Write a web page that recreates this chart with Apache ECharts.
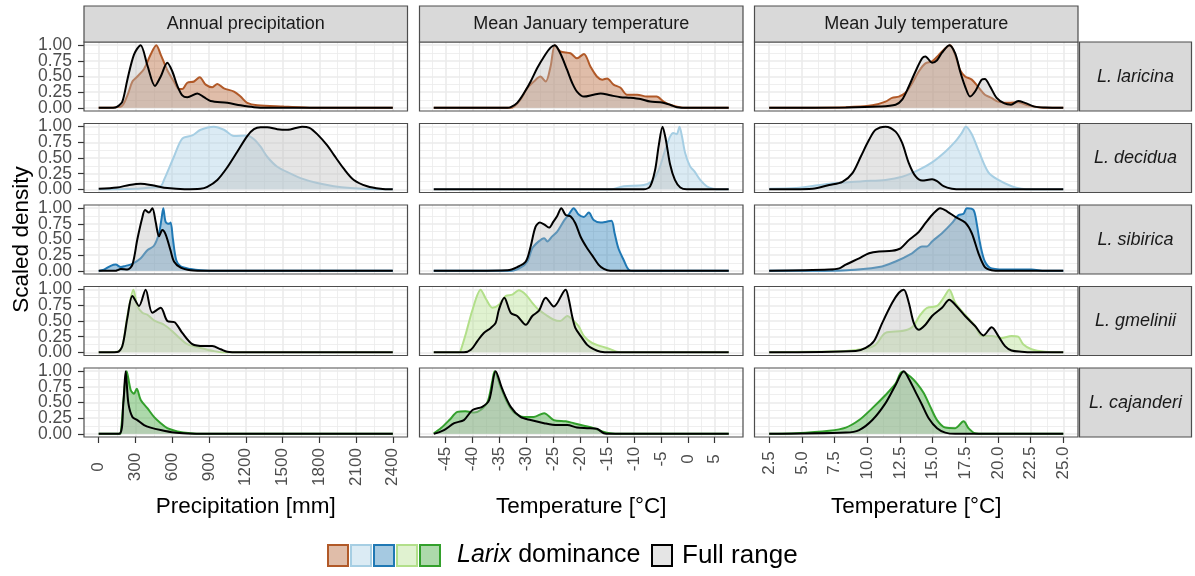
<!DOCTYPE html>
<html><head><meta charset="utf-8">
<script src="https://cdn.jsdelivr.net/npm/echarts@6/dist/echarts.min.js"></script>
<style>html,body{margin:0;padding:0;background:#fff}#c{width:1195px;height:576px}</style>
</head><body><div id="c"></div><script>
// ---------- labels & ticks ----------
const variables = ['Annual precipitation', 'Mean January temperature', 'Mean July temperature'];
const species = ['L. laricina', 'L. decidua', 'L. sibirica', 'L. gmelinii', 'L. cajanderi'];
const speciesColors = ['#B15928', '#A6CEE3', '#1F78B4', '#B2DF8A', '#33A02C'];
const xTitles = ['Precipitation [mm]', 'Temperature [°C]', 'Temperature [°C]'];
const xTicksPrecip = [0, 300, 600, 900, 1200, 1500, 1800, 2100, 2400];
const xTicksJan = [-45, -40, -35, -30, -25, -20, -15, -10, -5, 0, 5];
const xTicksJul = [2.5, 5, 7.5, 10, 12.5, 15, 17.5, 20, 22.5, 25];
const xMinorPrecip = [150, 450, 750, 1050, 1350, 1650, 1950, 2250];
const xMinorJan = [-47.5, -42.5, -37.5, -32.5, -27.5, -22.5, -17.5, -12.5, -7.5, -2.5, 2.5, 7.5];
const xMinorJul = [3.75, 6.25, 8.75, 11.25, 13.75, 16.25, 18.75, 21.25, 23.75];
const yTicksA = [0, 0.5, 1];      // y tick labels, split over two axes so none is auto-hidden
const yTicksB = [0.25, 0.75];
const yMinor = [0.125, 0.375, 0.625, 0.875];

// ---------- scaled densities: [x, density] ----------
// Annual precipitation (mm)
const laricinaPrecipDom = [[0,0],[180,0.02],[234,0.2],[275,0.42],[315,0.5],[370,0.62],[424,0.85],[470,1],[506,0.85],[560,0.6],[614,0.42],[655,0.3],[682,0.3],[723,0.4],[778,0.42],[824,0.49],[873,0.37],[927,0.33],[968,0.38],[1022,0.31],[1104,0.26],[1158,0.18],[1212,0.08],[1294,0.04],[1511,0.02],[1647,0.01],[1783,0],[2400,0]];
const laricinaPrecipFull = [[0,0],[120,0],[152,0.02],[193,0.1],[234,0.45],[288,0.85],[342,1],[397,0.68],[459,0.35],[506,0.5],[560,0.72],[601,0.58],[642,0.35],[682,0.2],[723,0.17],[805,0.23],[859,0.17],[913,0.11],[1049,0.08],[1158,0.04],[1267,0.01],[1375,0],[2400,0]];
const deciduaPrecipDom = [[0,0],[300,0.01],[420,0.03],[506,0.05],[533,0.15],[614,0.52],[682,0.81],[764,0.86],[832,0.95],[940,1],[1022,0.95],[1104,0.85],[1212,0.86],[1267,0.8],[1321,0.68],[1375,0.52],[1457,0.36],[1566,0.25],[1647,0.18],[1783,0.1],[1919,0.05],[2055,0.02],[2191,0.005],[2400,0]];
const deciduaPrecipFull = [[0,0.01],[150,0.03],[250,0.07],[342,0.09],[450,0.06],[560,0.02],[700,0.003],[830,0.01],[886,0.04],[968,0.15],[1049,0.35],[1131,0.6],[1212,0.85],[1267,0.96],[1321,0.99],[1375,0.99],[1457,0.96],[1538,0.95],[1660,1],[1720,0.98],[1783,0.88],[1865,0.7],[1919,0.55],[2000,0.33],[2082,0.15],[2191,0.05],[2300,0.01],[2400,0]];
const sibiricaPrecipDom = [[0,0],[43,0.02],[98,0.08],[139,0.1],[180,0.06],[220,0.08],[275,0.11],[343,0.2],[397,0.33],[451,0.4],[492,0.6],[514,0.85],[527,1],[546,0.78],[574,0.75],[587,0.77],[606,0.5],[633,0.17],[669,0.07],[750,0.03],[832,0.01],[968,0],[2400,0]];
const sibiricaPrecipFull = [[0,0],[140,0],[152,0.01],[180,0.03],[234,0.02],[275,0.1],[315,0.5],[356,0.85],[378,0.97],[410,0.93],[438,1],[465,0.78],[492,0.55],[519,0.65],[546,0.58],[587,0.32],[614,0.15],[669,0.05],[750,0.01],[886,0],[2400,0]];
const gmeliniiPrecipDom = [[0,0],[152,0.01],[193,0.1],[234,0.58],[283,1],[315,0.74],[356,0.63],[397,0.6],[451,0.51],[500,0.47],[533,0.44],[587,0.36],[642,0.26],[723,0.13],[832,0.07],[941,0.02],[1022,0],[2400,0]];
const gmeliniiPrecipFull = [[0,0],[152,0.005],[193,0.1],[234,0.55],[275,0.9],[329,0.74],[383,1],[438,0.63],[506,0.71],[560,0.5],[620,0.48],[682,0.31],[764,0.13],[859,0.1],[927,0.1],[995,0.05],[1049,0.01],[1150,0],[2400,0]];
const cajanderiPrecipDom = [[0,0],[166,0],[180,0.01],[207,0.64],[228,1],[261,0.7],[288,0.64],[310,0.72],[343,0.54],[397,0.41],[451,0.27],[506,0.17],[560,0.09],[642,0.04],[750,0.01],[850,0],[2400,0]];
const cajanderiPrecipFull = [[0,0],[166,0],[201,0.49],[220,1],[242,0.49],[275,0.27],[315,0.22],[370,0.14],[424,0.1],[506,0.06],[614,0.02],[723,0.005],[850,0],[2400,0]];
// Mean January temperature (°C)
const laricinaJanDom = [[-47.2,0],[-32.9,0],[-31.1,0.13],[-29.8,0.32],[-28.6,0.42],[-27.4,0.5],[-26.4,0.42],[-25.5,0.66],[-24.7,1],[-23.7,0.9],[-21.8,0.87],[-20.6,0.79],[-19.3,0.86],[-18.1,0.66],[-16.9,0.5],[-15.9,0.45],[-15.0,0.47],[-13.8,0.37],[-12.5,0.32],[-11.3,0.21],[-9.4,0.21],[-7.6,0.18],[-5.8,0.18],[-4.5,0.1],[-3.3,0.05],[-2.0,0.02],[-0.2,0],[7.6,0]];
const laricinaJanFull = [[-47.2,0],[-33.5,0],[-32.9,0.01],[-31.7,0.08],[-30.4,0.24],[-29.2,0.42],[-28.0,0.63],[-26.7,0.82],[-25.5,0.96],[-24.7,1],[-23.7,0.87],[-22.4,0.6],[-21.5,0.4],[-20.6,0.26],[-19.3,0.18],[-17.5,0.21],[-16.2,0.23],[-14.4,0.2],[-12.5,0.17],[-10.7,0.16],[-8.8,0.14],[-7.0,0.1],[-5.1,0.09],[-3.3,0.05],[-2.0,0.01],[-0.2,0],[7.6,0]];
const deciduaJanDom = [[-47.2,0],[-14.4,0],[-11.9,0.05],[-8.2,0.07],[-6.7,0.13],[-5.4,0.31],[-4.2,0.63],[-3.3,0.84],[-2.7,0.9],[-2.05,0.88],[-1.55,1],[-1.1,0.85],[-0.5,0.58],[0.4,0.37],[1.2,0.29],[2.3,0.15],[3.5,0.05],[4.7,0.01],[6.0,0],[7.6,0]];
const deciduaJanFull = [[-47.2,0],[-8.2,0],[-7.0,0.05],[-6.1,0.3],[-5.4,0.7],[-4.7,1],[-4.1,0.8],[-3.3,0.4],[-2.4,0.15],[-1.4,0.03],[-0.2,0],[7.6,0]];
const sibiricaJanDom = [[-47.2,0],[-32.9,0],[-31.1,0.05],[-29.8,0.15],[-28.9,0.36],[-27.7,0.47],[-26.7,0.52],[-26.1,0.47],[-25.2,0.55],[-24.3,0.62],[-23.0,0.8],[-22.1,0.9],[-21.2,1],[-20.3,0.9],[-19.3,0.86],[-18.4,0.93],[-17.5,0.81],[-16.2,0.77],[-15.3,0.78],[-14.2,0.8],[-13.6,0.6],[-12.9,0.36],[-11.9,0.17],[-11.0,0.02],[-10.1,0],[7.6,0]];
const sibiricaJanFull = [[-47.2,0],[-33.5,0.01],[-31.7,0.06],[-30.1,0.15],[-29.2,0.39],[-28.3,0.7],[-27.5,0.77],[-26.7,0.74],[-25.8,0.69],[-25.0,0.78],[-24.3,0.87],[-23.5,1],[-22.7,0.89],[-21.8,0.87],[-20.9,0.76],[-19.9,0.54],[-18.7,0.36],[-17.8,0.25],[-16.6,0.1],[-15.6,0.03],[-14.4,0],[7.6,0]];
const gmeliniiJanDom = [[-47.2,0],[-42.5,0],[-42.2,0.03],[-41.2,0.31],[-40.0,0.68],[-38.5,1],[-37.5,0.85],[-36.3,0.71],[-35.1,0.76],[-33.8,0.9],[-32.6,0.92],[-31.4,0.99],[-30.1,0.92],[-28.9,0.79],[-27.7,0.68],[-26.4,0.6],[-24.9,0.52],[-23.7,0.5],[-22.4,0.58],[-21.2,0.5],[-20.3,0.42],[-19.3,0.26],[-17.8,0.15],[-16.2,0.1],[-14.4,0.05],[-13.2,0.01],[-11.3,0],[7.6,0]];
const gmeliniiJanFull = [[-47.2,0],[-41.6,0],[-40.3,0.04],[-39.1,0.18],[-37.9,0.31],[-36.6,0.39],[-35.7,0.47],[-35.1,0.68],[-34.1,0.87],[-32.9,0.63],[-31.7,0.58],[-30.1,0.44],[-28.9,0.58],[-27.7,0.66],[-26.4,0.87],[-24.9,0.73],[-22.7,1],[-22.1,0.84],[-21.5,0.58],[-20.9,0.39],[-19.9,0.26],[-18.7,0.12],[-17.5,0.05],[-16.2,0.01],[-14.4,0],[7.6,0]];
const cajanderiJanDom = [[-47.2,0.01],[-45.9,0.09],[-44.3,0.22],[-42.8,0.35],[-41.3,0.36],[-39.7,0.34],[-38.5,0.38],[-37.2,0.51],[-36.3,0.85],[-35.9,1],[-34.8,0.75],[-33.5,0.49],[-32.3,0.34],[-30.4,0.27],[-28.6,0.27],[-26.7,0.33],[-24.9,0.22],[-22.7,0.2],[-21.2,0.17],[-19.3,0.13],[-17.5,0.09],[-15.9,0.04],[-14.4,0.01],[-12.5,0],[7.6,0]];
const cajanderiJanFull = [[-47.2,0],[-45.3,0.06],[-43.4,0.17],[-41.6,0.22],[-40.0,0.38],[-38.2,0.43],[-36.9,0.54],[-35.7,1],[-34.5,0.72],[-32.9,0.43],[-31.1,0.27],[-29.2,0.22],[-26.7,0.17],[-24.3,0.14],[-22.4,0.14],[-20.6,0.1],[-18.7,0.09],[-16.9,0.08],[-15.6,0.01],[-14.4,0],[7.6,0]];
// Mean July temperature (°C)
const laricinaJulDom = [[2.5,0],[8.36,0.01],[10.39,0.04],[11.4,0.1],[11.9,0.16],[12.42,0.18],[12.93,0.24],[13.43,0.39],[13.94,0.58],[14.45,0.71],[14.96,0.74],[15.46,0.84],[15.97,0.95],[16.35,1],[16.73,0.84],[17.11,0.6],[17.49,0.5],[18.0,0.45],[18.5,0.33],[19.0,0.21],[19.5,0.16],[20.0,0.1],[20.8,0.08],[21.55,0.09],[22.3,0.04],[23.1,0.01],[23.8,0],[25,0]];
const laricinaJulFull = [[2.5,0],[8.36,0.005],[10.9,0.02],[12.17,0.05],[12.67,0.13],[13.18,0.34],[13.69,0.58],[14.2,0.79],[14.45,0.82],[14.96,0.72],[15.34,0.76],[15.72,0.88],[16.28,1],[16.73,0.87],[17.11,0.58],[17.49,0.34],[17.87,0.18],[18.25,0.26],[18.76,0.45],[19.0,0.46],[19.4,0.34],[19.9,0.16],[20.5,0.07],[21.0,0.05],[21.55,0.11],[22.06,0.08],[22.8,0.02],[23.6,0.005],[25,0]];
const deciduaJulDom = [[2.5,0.01],[4.56,0.02],[7.09,0.09],[8.36,0.11],[9.63,0.13],[11.4,0.15],[12.67,0.2],[13.94,0.31],[14.96,0.43],[15.97,0.6],[16.73,0.76],[17.24,0.9],[17.54,1],[18.0,0.88],[18.51,0.62],[19.27,0.27],[20.03,0.15],[21.04,0.05],[21.8,0.01],[22.6,0],[25,0]];
const deciduaJulFull = [[2.5,0],[5.82,0.01],[7.09,0.07],[8.1,0.12],[8.87,0.26],[9.5,0.52],[10.14,0.79],[10.64,0.95],[11.4,1],[12.17,0.92],[12.67,0.74],[13.18,0.42],[13.69,0.21],[14.2,0.14],[14.96,0.16],[15.34,0.13],[15.84,0.05],[16.48,0.01],[17.24,0],[25,0]];
const sibiricaJulDom = [[2.5,0],[8.36,0.01],[10.9,0.06],[12.17,0.15],[13.43,0.28],[14.2,0.39],[14.58,0.39],[14.96,0.47],[15.72,0.6],[16.48,0.76],[16.99,0.89],[17.37,0.91],[17.62,1],[18.13,0.97],[18.38,0.75],[18.63,0.44],[19.0,0.15],[19.52,0.04],[21.04,0.02],[22.57,0.02],[23.6,0],[25,0]];
const sibiricaJulFull = [[2.5,0],[7.09,0.02],[7.86,0.04],[8.36,0.1],[9.38,0.2],[10.14,0.28],[10.9,0.31],[11.9,0.32],[12.55,0.36],[13.18,0.49],[13.94,0.62],[14.45,0.76],[14.96,0.89],[15.59,1],[16.1,0.95],[16.73,0.86],[17.49,0.77],[18.0,0.6],[18.51,0.28],[19.0,0.06],[19.52,0.01],[20.3,0],[25,0]];
const gmeliniiJulDom = [[2.5,0],[5.82,0.01],[8.36,0.02],[9.88,0.06],[10.64,0.12],[11.4,0.31],[12.67,0.34],[13.43,0.4],[14.07,0.6],[14.58,0.71],[15.34,0.74],[15.84,0.87],[16.28,1],[16.73,0.79],[17.49,0.6],[18.25,0.42],[18.76,0.26],[19.52,0.26],[20.28,0.23],[21.04,0.26],[21.55,0.25],[21.93,0.13],[22.57,0.05],[23.6,0.01],[25,0]];
const gmeliniiJulFull = [[2.5,0],[9.12,0.02],[9.88,0.07],[10.52,0.18],[11.15,0.47],[11.91,0.79],[12.42,0.95],[12.8,1],[13.18,0.79],[13.56,0.47],[13.94,0.36],[14.45,0.44],[14.96,0.58],[15.72,0.71],[16.28,0.84],[16.73,0.76],[17.49,0.58],[18.25,0.42],[18.89,0.27],[19.52,0.4],[20.03,0.26],[20.54,0.1],[21.04,0.03],[21.8,0.01],[22.6,0],[25,0]];
const cajanderiJulDom = [[2.5,0],[4.56,0.01],[7.09,0.05],[8.36,0.1],[9.38,0.22],[10.39,0.41],[11.4,0.62],[12.17,0.8],[12.67,0.99],[13.31,0.91],[13.81,0.8],[14.32,0.65],[14.83,0.43],[15.34,0.22],[15.97,0.1],[16.73,0.09],[17.37,0.2],[17.75,0.09],[18.25,0.01],[19.0,0],[25,0]];
const cajanderiJulFull = [[2.5,0],[8.36,0.02],[9.38,0.06],[10.39,0.22],[11.4,0.49],[12.17,0.78],[12.8,1],[13.18,0.88],[13.69,0.67],[14.2,0.46],[14.7,0.25],[15.34,0.09],[15.97,0.02],[16.73,0],[25,0]];

const domData = [
  [laricinaPrecipDom, laricinaJanDom, laricinaJulDom],
  [deciduaPrecipDom, deciduaJanDom, deciduaJulDom],
  [sibiricaPrecipDom, sibiricaJanDom, sibiricaJulDom],
  [gmeliniiPrecipDom, gmeliniiJanDom, gmeliniiJulDom],
  [cajanderiPrecipDom, cajanderiJanDom, cajanderiJulDom]
];
const fullData = [
  [laricinaPrecipFull, laricinaJanFull, laricinaJulFull],
  [deciduaPrecipFull, deciduaJanFull, deciduaJulFull],
  [sibiricaPrecipFull, sibiricaJanFull, sibiricaJulFull],
  [gmeliniiPrecipFull, gmeliniiJanFull, gmeliniiJulFull],
  [cajanderiPrecipFull, cajanderiJanFull, cajanderiJulFull]
];

// ---------- layout ----------
const FONT = '"Liberation Sans", Arial, Helvetica, sans-serif';
const colLefts = [84, 419.5, 754.5];
const rowTops = [42, 123.5, 205, 286.5, 368];
const panelW = 323.5, panelH = 69;
const xRanges = [[-120, 2520], [-49.85, 10.25], [1.375, 26.125]];
const xMajors = [xTicksPrecip, xTicksJan, xTicksJul];
const xMinors = [xMinorPrecip, xMinorJan, xMinorJul];
const xFormat = [v => String(v), v => String(v), v => v.toFixed(1)];
const xLabelMargin = [30, 22, 26];
const GRID_C = '#EBEBEB', BORDER_C = '#4D4D4D', TEXT_C = '#4D4D4D';

const grids = [], xAxes = [], yAxes = [], series = [], graphics = [];
function yAxisDef(g, vals, showLab, major, name) {
  return {
    gridIndex: g, type: 'value', min: -0.05, max: 1.05, position: 'left',
    axisLine: {show: false, onZero: false},
    axisTick: {show: showLab, customValues: vals, length: 6, lineStyle: {color: '#333', width: 1.2}},
    axisLabel: {show: showLab, customValues: vals, margin: 12, fontSize: 17.5, fontFamily: FONT, color: TEXT_C,
      interval: 0, showMinLabel: true, showMaxLabel: true, hideOverlap: false, formatter: v => v.toFixed(2)},
    splitLine: {show: true, lineStyle: {color: GRID_C, width: major ? 1.6 : 0.8}},
    name: name || '', nameLocation: 'middle', nameGap: 51, nameRotate: 90,
    nameTextStyle: {fontSize: 22.5, fontFamily: FONT, color: '#000'}
  };
}
for (let r = 0; r < 5; r++) {
  for (let c = 0; c < 3; c++) {
    const g = r * 3 + c;
    grids.push({left: colLefts[c], top: rowTops[r], width: panelW, height: panelH, show: false});
    const isBottom = r === 4, isLeft = c === 0;
    xAxes.push({
      gridIndex: g, type: 'value', min: xRanges[c][0], max: xRanges[c][1], position: 'bottom',
      axisLine: {show: false, onZero: false},
      axisTick: {show: isBottom, customValues: xMajors[c], length: 6, lineStyle: {color: '#333', width: 1.2}},
      axisLabel: {show: isBottom, customValues: xMajors[c], rotate: 90, align: 'center', verticalAlign: 'middle',
        interval: 0, showMinLabel: true, showMaxLabel: true, hideOverlap: false,
        margin: xLabelMargin[c], fontSize: 17, fontFamily: FONT, color: TEXT_C, formatter: xFormat[c]},
      splitLine: {show: true, lineStyle: {color: GRID_C, width: 1.6}},
      name: isBottom ? xTitles[c] : '', nameLocation: 'middle', nameGap: 58,
      nameTextStyle: {fontSize: 22.5, fontFamily: FONT, color: '#000'}
    });
    xAxes.push({
      gridIndex: g, type: 'value', min: xRanges[c][0], max: xRanges[c][1], position: 'bottom',
      axisLine: {show: false, onZero: false}, axisTick: {show: false, customValues: xMinors[c]}, axisLabel: {show: false},
      splitLine: {show: true, lineStyle: {color: GRID_C, width: 0.8}}
    });
    const yBase = yAxes.length;
    yAxes.push(yAxisDef(g, yTicksA, isLeft, true, (isLeft && r === 2) ? 'Scaled density' : ''));
    yAxes.push(yAxisDef(g, yTicksB, isLeft, true, ''));
    yAxes.push(yAxisDef(g, yMinor, false, false, ''));
    series.push({
      type: 'line', xAxisIndex: 2 * g, yAxisIndex: yBase, data: domData[r][c], smooth: 0.3,
      symbol: 'none', silent: true, z: 2,
      lineStyle: {color: speciesColors[r], width: 2},
      areaStyle: {color: speciesColors[r], opacity: 0.4}
    });
    series.push({
      type: 'line', xAxisIndex: 2 * g, yAxisIndex: yBase, data: fullData[r][c], smooth: 0.3,
      symbol: 'none', silent: true, z: 3,
      lineStyle: {color: '#000', width: 2},
      areaStyle: {color: '#BEBEBE', opacity: 0.4}
    });
    graphics.push({type: 'rect', z: 50, silent: true,
      shape: {x: colLefts[c], y: rowTops[r], width: panelW, height: panelH},
      style: {fill: 'none', stroke: BORDER_C, lineWidth: 1.2}});
  }
}
// column strips
for (let c = 0; c < 3; c++) {
  graphics.push({type: 'rect', z: 50, silent: true,
    shape: {x: colLefts[c], y: 6, width: panelW, height: 36},
    style: {fill: '#D9D9D9', stroke: BORDER_C, lineWidth: 1.2}});
  graphics.push({type: 'text', z: 51, silent: true,
    style: {text: variables[c], x: colLefts[c] + panelW / 2, y: 24.5, align: 'center', verticalAlign: 'middle',
      fontSize: 18, fontFamily: FONT, fill: '#1A1A1A'}});
}
// row strips
for (let r = 0; r < 5; r++) {
  graphics.push({type: 'rect', z: 50, silent: true,
    shape: {x: 1079.5, y: rowTops[r], width: 112, height: panelH},
    style: {fill: '#D9D9D9', stroke: BORDER_C, lineWidth: 1.2}});
  graphics.push({type: 'text', z: 51, silent: true,
    style: {text: species[r], x: 1135.5, y: rowTops[r] + panelH / 2, align: 'center', verticalAlign: 'middle',
      fontSize: 18, fontStyle: 'italic', fontFamily: FONT, fill: '#1A1A1A'}});
}
// legend
const keyX0 = 328, keyY = 545, keyStep = 23, keyW = 20, keyH = 21;
speciesColors.forEach((col, i) => {
  graphics.push({type: 'rect', z: 50, silent: true,
    shape: {x: keyX0 + i * keyStep, y: keyY, width: keyW, height: keyH},
    style: {fill: echarts.color.modifyAlpha(col, 0.4), stroke: col, lineWidth: 2}});
});
graphics.push({type: 'text', z: 51, silent: true,
  style: {text: '{i|Larix} dominance', x: 457, y: keyY + keyH / 2, verticalAlign: 'middle', align: 'left',
    fontSize: 25, fontFamily: FONT, fill: '#000', rich: {i: {fontStyle: 'italic', fontSize: 25, fontFamily: FONT}}}});
graphics.push({type: 'rect', z: 50, silent: true,
  shape: {x: 652, y: keyY, width: keyW, height: keyH},
  style: {fill: 'rgba(190,190,190,0.4)', stroke: '#000', lineWidth: 2}});
graphics.push({type: 'text', z: 51, silent: true,
  style: {text: 'Full range', x: 682, y: keyY + keyH / 2, verticalAlign: 'middle', align: 'left',
    fontSize: 26, fontFamily: FONT, fill: '#000'}});

const chart = echarts.init(document.getElementById('c'), null, {renderer: 'canvas', width: 1195, height: 576});
chart.setOption({
  animation: false,
  backgroundColor: '#fff',
  textStyle: {fontFamily: FONT},
  grid: grids, xAxis: xAxes, yAxis: yAxes, series: series, graphic: graphics
});
</script></body></html>
